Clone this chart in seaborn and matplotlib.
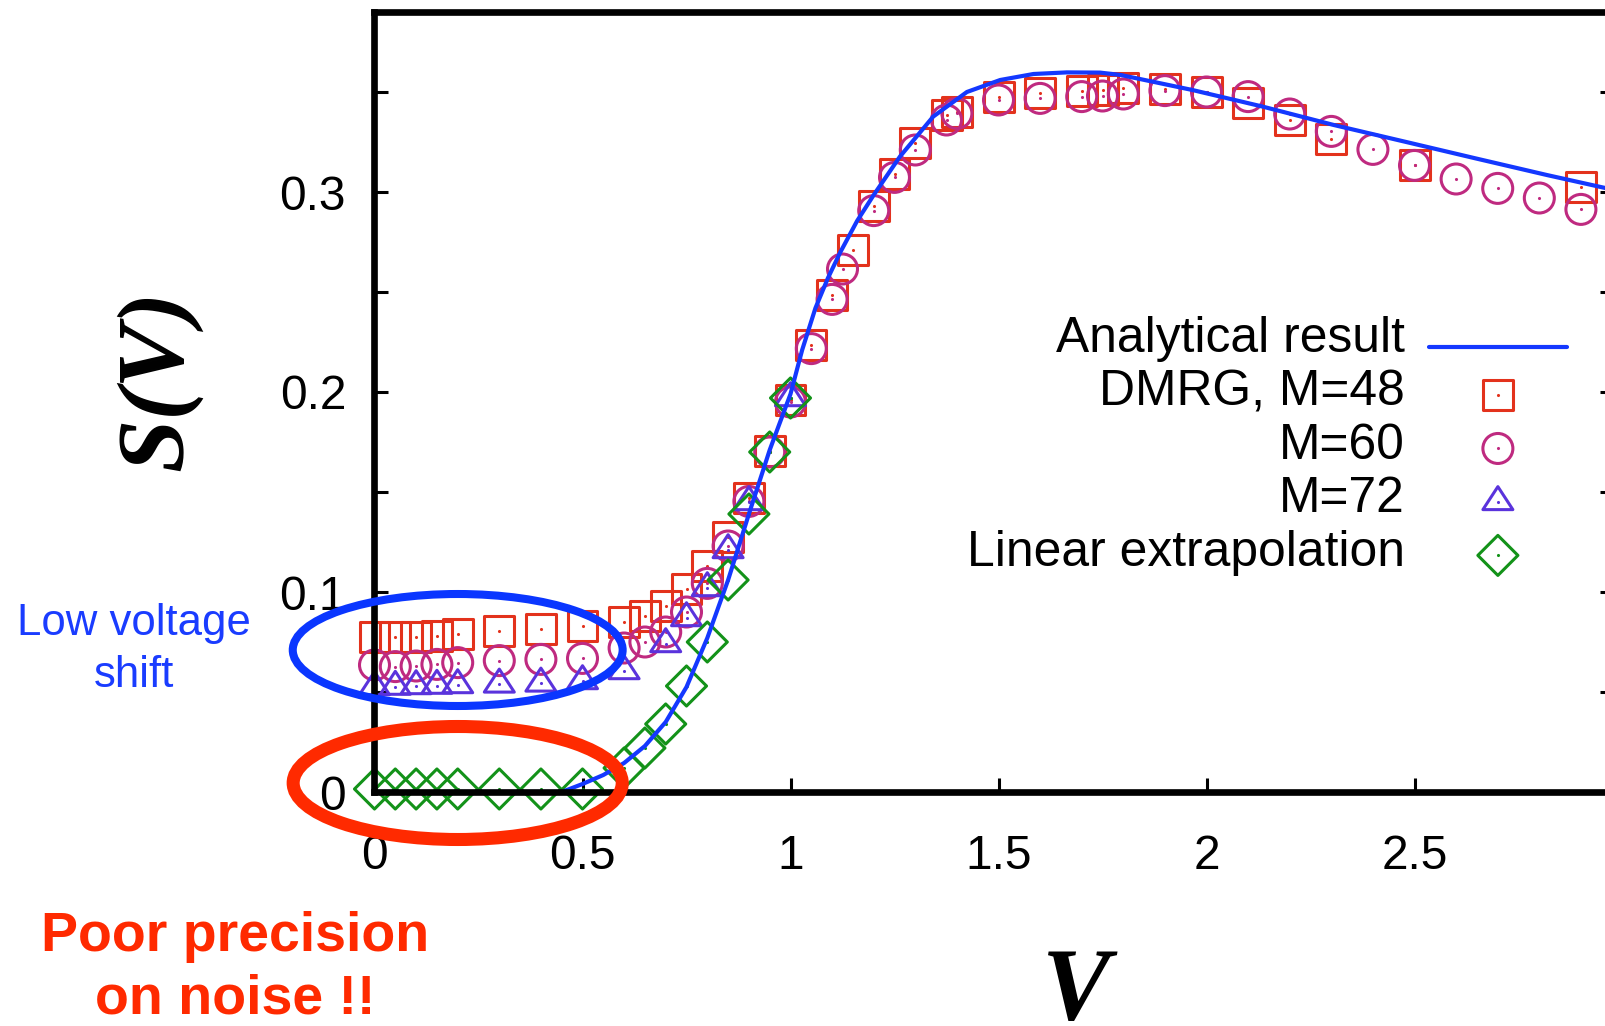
import numpy as np
import pandas as pd
import matplotlib
matplotlib.use("Agg")
import matplotlib.pyplot as plt
import seaborn as sns
from matplotlib.patches import Ellipse
from matplotlib.path import Path
from matplotlib.legend_handler import HandlerTuple, HandlerLine2D
from matplotlib.ticker import FixedLocator, MultipleLocator, FuncFormatter

# ---------------------------------------------------------------- data
# Analytical noise curve S(V)
v_analytic = [0.0, 0.45, 0.5, 0.55, 0.6, 0.65, 0.7, 0.75, 0.8, 0.85, 0.9,
              0.95, 1.0, 1.028, 1.06, 1.09, 1.12, 1.16, 1.2, 1.263, 1.343,
              1.424, 1.504, 1.584, 1.664, 1.744, 1.794, 1.966, 2.135, 2.306,
              2.476, 2.647, 2.818, 2.98]
s_analytic = [0.0, 0.0, 0.004, 0.0085, 0.0145, 0.023, 0.035, 0.0525, 0.077,
              0.106, 0.139, 0.171, 0.199, 0.221, 0.242, 0.257, 0.270, 0.2855,
              0.2985, 0.3177, 0.3377, 0.350, 0.356, 0.359, 0.3598, 0.3597,
              0.3585, 0.351, 0.3427, 0.3335, 0.3252, 0.3168, 0.3085, 0.301]

# DMRG, M=48
v_m48 = [0, 0.05, 0.1, 0.15, 0.2, 0.3, 0.4, 0.5, 0.6, 0.65, 0.7, 0.75, 0.8,
         0.85, 0.9, 0.95, 1.0, 1.05, 1.1, 1.15, 1.2, 1.25, 1.3, 1.375, 1.4,
         1.5, 1.6, 1.7, 1.75, 1.8, 1.9, 2.0, 2.1, 2.2, 2.3, 2.5, 2.9]
s_m48 = [0.0777, 0.0777, 0.0777, 0.0780, 0.0792, 0.0803, 0.0813, 0.0828,
         0.0850, 0.0882, 0.0932, 0.1013, 0.1130, 0.1277, 0.1470, 0.1705,
         0.1960, 0.2233, 0.2483, 0.2710, 0.2932, 0.3088, 0.3243, 0.3385,
         0.3400, 0.3473, 0.3493, 0.3505, 0.3510, 0.3520, 0.3515, 0.3500,
         0.3443, 0.3360, 0.3267, 0.3133, 0.3027]

# DMRG, M=60
v_m60 = [0, 0.05, 0.1, 0.15, 0.2, 0.3, 0.4, 0.5, 0.6, 0.65, 0.7, 0.75, 0.8,
         0.85, 0.9, 0.95, 1.0, 1.05, 1.1, 1.125, 1.2, 1.25, 1.3, 1.375, 1.4,
         1.5, 1.6, 1.7, 1.75, 1.8, 1.9, 2.0, 2.1, 2.2, 2.3, 2.4, 2.5, 2.6,
         2.7, 2.8, 2.9]
s_m60 = [0.0635, 0.0627, 0.0630, 0.0638, 0.0647, 0.0657, 0.0663, 0.0668,
         0.0720, 0.0750, 0.0800, 0.0900, 0.1043, 0.1230, 0.1453, 0.1700,
         0.1950, 0.2217, 0.2463, 0.2615, 0.2907, 0.3073, 0.3210, 0.3360,
         0.3393, 0.3460, 0.3468, 0.3477, 0.3480, 0.3490, 0.3507, 0.3500,
         0.3477, 0.3390, 0.3303, 0.3213, 0.3133, 0.3065, 0.3018, 0.2970,
         0.2913]

# DMRG, M=72
v_m72 = [0, 0.05, 0.1, 0.15, 0.2, 0.3, 0.4, 0.5, 0.6, 0.7, 0.75, 0.8, 0.85,
         0.9, 1.0]
s_m72 = [0.0525, 0.0527, 0.0530, 0.0532, 0.0535, 0.0538, 0.0543, 0.0555,
         0.0605, 0.0740, 0.0870, 0.1020, 0.1210, 0.1450, 0.1970]

# Linear extrapolation in 1/M
v_lin = [0, 0.05, 0.1, 0.15, 0.2, 0.3, 0.4, 0.5, 0.6, 0.65, 0.7, 0.75, 0.8,
         0.85, 0.9, 0.95, 1.0]
s_lin = [0.0015, 0.0015, 0.0015, 0.0015, 0.0015, 0.0015, 0.0015, 0.0015,
         0.012, 0.022, 0.034, 0.053, 0.075, 0.106, 0.139, 0.170, 0.197]

x_ticks = [0, 0.5, 1, 1.5, 2, 2.5]
x_tick_labels = ["0", "0.5", "1", "1.5", "2", "2.5"]

labels = ["Analytical result", "DMRG, M=48", "M=60", "M=72",
          "Linear extrapolation"]

# ---------------------------------------------------------------- style
sns.set_style("ticks")
plt.rcParams["font.family"] = ["Liberation Sans", "DejaVu Sans"]
plt.rcParams["text.color"] = "black"
plt.rcParams["axes.labelcolor"] = "black"
SERIF = ["Liberation Serif", "DejaVu Serif"]

C_LINE = "#1438ff"
C_M48 = "#e3321c"
C_M60 = "#bf2a80"
C_M72 = "#5a33dc"
C_LIN = "#139219"

W, H = 1606, 1026
fig = plt.figure(figsize=(W / 100, H / 100), dpi=100)
px_left, px_right, px_bottom, px_top = 374.5, 1614.2, 792, 12
ax = fig.add_axes([px_left / W, 1 - px_bottom / H,
                   (px_right - px_left) / W, (px_bottom - px_top) / H])
ax.set_xlim(0, 2.98)
ax.set_ylim(0, 0.39)

# triangle whose centroid sits on the data point
tri = Path([(0, 15.3), (-15, -7.7), (15, -7.7), (0, 15.3)],
           [Path.MOVETO, Path.LINETO, Path.LINETO, Path.CLOSEPOLY])


def open_points(v, s, marker, color, size):
    df = pd.DataFrame({"V": v, "S": s})
    sns.scatterplot(data=df, x="V", y="S", marker=marker, s=size,
                    color=color, facecolors="none", edgecolor=color,
                    linewidth=2.2, ax=ax, zorder=3, clip_on=False)
    outline = ax.collections[-1]
    sns.scatterplot(data=df, x="V", y="S", marker="o", s=5, color=color,
                    linewidth=0, ax=ax, zorder=3, clip_on=False)
    dot = ax.collections[-1]
    return outline, dot


h48 = open_points(v_m48, s_m48, "s", C_M48, 466)
h60 = open_points(v_m60, s_m60, "o", C_M60, 466)
h72 = open_points(v_m72, s_m72, tri, C_M72, 485)
hlin = open_points(v_lin, s_lin, "D", C_LIN, 416)

sns.lineplot(x=v_analytic, y=s_analytic, color=C_LINE, linewidth=3,
             ax=ax, zorder=4, legend=False)
line = ax.lines[-1]

# ---------------------------------------------------------------- axes
for side, sp in ax.spines.items():
    sp.set_linewidth(4.8)
    sp.set_color("black")
    sp.set_zorder(5)

ax.xaxis.set_major_locator(FixedLocator(x_ticks))
ax.set_xticklabels(x_tick_labels)
ax.yaxis.set_major_locator(MultipleLocator(0.1))
ax.yaxis.set_minor_locator(MultipleLocator(0.05))
ax.yaxis.set_major_formatter(
    FuncFormatter(lambda v, _: "0" if abs(v) < 1e-9 else f"{v:.1f}"))
ax.tick_params(axis="both", which="both", direction="in", length=10,
               width=2.2, labelsize=34.5, colors="black")
ax.tick_params(axis="y", which="both", left=True, right=True, pad=20.5)
ax.tick_params(axis="x", which="both", bottom=True, top=False, pad=30)

ax.set_xlabel("V", fontsize=74, fontweight="bold", fontstyle="italic",
              family=SERIF)
ax.xaxis.set_label_coords(0.566, -0.199)
ax.set_ylabel("S(V)", fontsize=69, fontweight="bold", fontstyle="italic",
              family=SERIF)
ax.yaxis.set_label_coords(-0.139, 0.528)


# ---------------------------------------------------------------- legend
class LowLineHandler(HandlerLine2D):
    """Line sample drawn a little above the label baseline."""

    def create_artists(self, legend, orig_handle, xdescent, ydescent,
                       width, height, fontsize, trans):
        arts = super().create_artists(legend, orig_handle, xdescent,
                                      ydescent, width, height, fontsize,
                                      trans)
        for a in arts:
            a.set_ydata(np.full_like(np.asarray(a.get_xdata(), float),
                                     0.15 * height))
        return arts


ax.legend([line, h48, h60, h72, hlin], labels,
          handler_map={tuple: HandlerTuple(ndivide=1, pad=0),
                       line: LowLineHandler()},
          markerfirst=False, frameon=False, loc="upper right",
          bbox_to_anchor=(1567 / W, 1 - 316 / H),
          bbox_transform=fig.transFigure, fontsize=35.8, handlelength=2.78,
          handletextpad=0.48, labelspacing=0.15, borderpad=0,
          borderaxespad=0, scatterpoints=1, scatteryoffsets=[0.3])

# ---------------------------------------------------------------- notes
ax.add_patch(Ellipse((0.2, 0.071), 0.793, 0.056, fill=False,
                     edgecolor="#0a36ff", linewidth=5.8, clip_on=False,
                     zorder=12))
ax.add_patch(Ellipse((0.2, 0.0045), 0.791, 0.0565, fill=False,
                     edgecolor="#ff2a00", linewidth=9.4, clip_on=False,
                     zorder=12))

fig.text(134 / W, 1 - 635 / H, "Low voltage", ha="center", va="baseline",
         color="#1a3cff", fontsize=31.5)
fig.text(134 / W, 1 - 687 / H, "shift", ha="center", va="baseline",
         color="#1a3cff", fontsize=31.5)
fig.text(235 / W, 1 - 951 / H, "Poor precision", ha="center",
         va="baseline", color="#ff2a00", fontsize=40, fontweight="bold")
fig.text(235 / W, 1 - 1013 / H, "on noise !!", ha="center", va="baseline",
         color="#ff2a00", fontsize=40, fontweight="bold")

fig.savefig("out.png", dpi=100)
